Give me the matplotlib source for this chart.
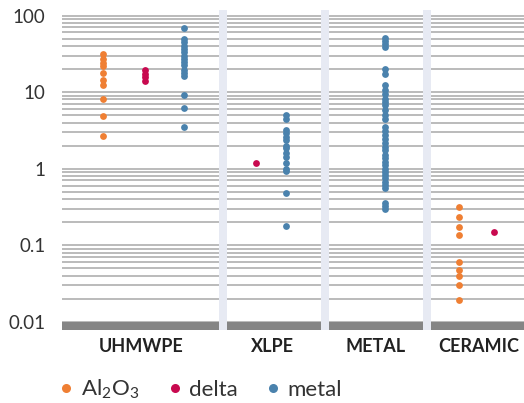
import numpy as np
import matplotlib
matplotlib.use('Agg')
import matplotlib.pyplot as plt
from matplotlib.ticker import LogLocator, FixedLocator, NullFormatter
from matplotlib.lines import Line2D

plt.rcParams['font.family'] = ['Lato', 'DejaVu Sans']
plt.rcParams['mathtext.fontset'] = 'custom'
plt.rcParams['mathtext.rm'] = 'Lato'
plt.rcParams['mathtext.it'] = 'Lato'

# groups and series
groups = ['UHMWPE', 'XLPE', 'METAL', 'CERAMIC']
series = ['Al2O3', 'delta', 'metal']
series_labels = [r'Al$_2$O$_3$', 'delta', 'metal']

# values, per group
uhmwpe_al2o3 = [31, 27, 24, 22, 17.5, 14.5, 12.5, 8, 4.8, 2.7]
uhmwpe_delta = [19.5, 17, 15.5, 14]
uhmwpe_metal = [69, 50, 45, 40.5, 37, 33, 30, 27, 24.5, 22.3, 19.6, 17.7, 16,
                9.1, 6.1, 3.5]
xlpe_delta = [1.19]
xlpe_metal = [5.0, 4.5, 3.2, 2.9, 2.6, 2.35, 2.0, 1.83, 1.6, 1.4, 1.19, 1.0,
              0.94, 0.48, 0.178]
metal_metal = [51, 46, 42, 38.5, 20.2, 17, 12.2, 10.5, 9.5, 8.2, 7.4, 6.7,
               5.8, 5.0, 4.4, 3.5, 3.1, 2.73, 2.42, 2.13, 1.92, 1.74, 1.5,
               1.36, 1.23, 1.11, 1.0, 0.91, 0.82, 0.745, 0.67, 0.61, 0.55,
               0.35, 0.325, 0.3]
ceramic_al2o3 = [0.318, 0.236, 0.17, 0.136, 0.061, 0.048, 0.040, 0.030, 0.0194]
ceramic_delta = [0.148]

colors = {'Al2O3': '#ef7f33', 'delta': '#c8094f', 'metal': '#4a82ad'}

# layout (x positions, in axis units)
x_left, x_right = 62, 524
group_centers = [141, 272, 376, 479]
separators = [(219, 226.5), (321, 328.5), (423, 430.5)]
points = [
    (103, uhmwpe_al2o3, 'Al2O3'),
    (145, uhmwpe_delta, 'delta'),
    (184, uhmwpe_metal, 'metal'),
    (256, xlpe_delta, 'delta'),
    (286, xlpe_metal, 'metal'),
    (385, metal_metal, 'metal'),
    (459, ceramic_al2o3, 'Al2O3'),
    (494, ceramic_delta, 'delta'),
]

fig = plt.figure(figsize=(5.24, 4.03), dpi=100)
ax = fig.add_axes([62 / 524, 1 - 329.5 / 403, 1 - 62 / 524, (329.5 - 10) / 403])

ax.set_yscale('log')
ymin, ymax = 0.0079, 118
ax.set_ylim(ymin, ymax)
ax.set_xlim(x_left, x_right)

# grid on every decade step
ax.yaxis.set_major_locator(FixedLocator([0.01, 0.1, 1, 10, 100]))
ax.set_yticklabels(['0.01', '0.1', '1', '10', '100'])
ax.yaxis.set_minor_locator(LogLocator(base=10, subs=np.arange(2, 10)))
ax.yaxis.set_minor_formatter(NullFormatter())
ax.grid(axis='y', which='both', color='#b5b5b5', linewidth=1.3, zorder=1)
ax.set_axisbelow(True)

# thick bar at the bottom
ax.axhspan(ymin, 0.01, color='#858585', zorder=2, lw=0)
for a, b in separators:
    ax.axvspan(a, b, color='#e7eaf3', zorder=3, lw=0)

for x, vals, s in points:
    ax.scatter(np.full(len(vals), x), vals, s=24, color=colors[s],
               zorder=5, linewidths=0)

ax.set_xticks(group_centers)
ax.set_xticklabels(groups, fontsize=13, fontweight='bold', color='#222222')
ax.tick_params(axis='x', length=0, pad=6)
ax.tick_params(axis='y', which='both', length=0, pad=12, labelsize=13.5,
               labelcolor='#333333')
for sp in ax.spines.values():
    sp.set_visible(False)

handles = [Line2D([], [], marker='o', linestyle='', markersize=6.5,
                  markeredgewidth=0, color=colors[s]) for s in series]
fig.legend(handles, series_labels, loc='lower left',
           bbox_to_anchor=(33 / 524, -0.045), ncol=3, frameon=False,
           fontsize=16, handletextpad=0.05,
           columnspacing=1.0, handlelength=1.2, labelcolor='#333333')

fig.savefig('out.png', dpi=100)
